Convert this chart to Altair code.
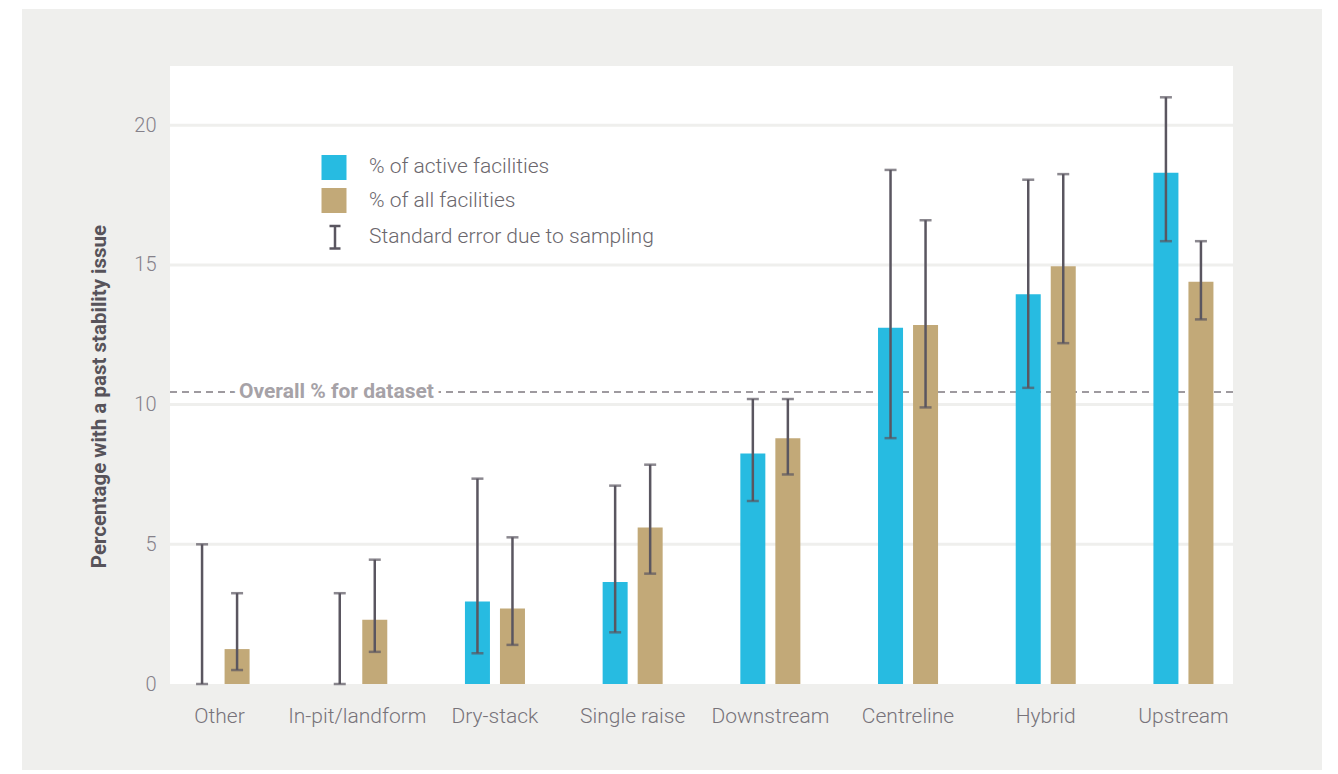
import altair as alt
import pandas as pd

# Tailings facility construction methods
categories = ["Other", "In-pit/landform", "Dry-stack", "Single raise",
              "Downstream", "Centreline", "Hybrid", "Upstream"]

# % of active facilities with a past stability issue, and standard-error range
active_pct = [0.0, 0.0, 2.95, 3.65, 8.25, 12.75, 13.95, 18.3]
active_lo = [0.0, 0.0, 1.1, 1.85, 6.55, 8.8, 10.6, 15.85]
active_hi = [5.0, 3.25, 7.35, 7.1, 10.2, 18.4, 18.05, 21.0]

# % of all facilities with a past stability issue, and standard-error range
all_pct = [1.25, 2.3, 2.7, 5.6, 8.8, 12.85, 14.95, 14.4]
all_lo = [0.5, 1.15, 1.4, 3.95, 7.5, 9.9, 12.2, 13.05]
all_hi = [3.25, 4.45, 5.25, 7.85, 10.2, 16.6, 18.25, 15.85]

series_names = ["% of active facilities", "% of all facilities"]
series_colors = ["#27bbe1", "#c2a978"]
overall_pct = 10.45
y_ticks = [0, 5, 10, 15, 20]

W, H = 1063, 618
PANEL = "#efefed"
ERR = "#5a5660"
FONT = "Roboto"

rows = []
for i, c in enumerate(categories):
    rows.append(dict(category=c, series=series_names[0], value=active_pct[i],
                     lo=active_lo[i], hi=active_hi[i]))
    rows.append(dict(category=c, series=series_names[1], value=all_pct[i],
                     lo=all_lo[i], hi=all_hi[i]))
df = pd.DataFrame(rows)
one = pd.DataFrame({"k": [0]})

y_scale = alt.Scale(domain=[0, 22.12], nice=False, zero=True)
x_enc = alt.X(
    "category:N", sort=categories,
    scale=alt.Scale(paddingInner=0.5, paddingOuter=0.11),
    axis=alt.Axis(title=None, labelAngle=0, domain=False, ticks=False, grid=False,
                  labelPadding=21, labelFontSize=21, labelColor="#77737a",
                  labelFont=FONT, labelFontWeight=300, zindex=1),
)
xo_enc = alt.XOffset("series:N", sort=series_names,
                     scale=alt.Scale(paddingInner=0.286, paddingOuter=0.126))
y_axis = alt.Axis(values=y_ticks, grid=False, domain=False, ticks=False,
                  labelPadding=14, labelFontSize=20, labelColor="#85818a",
                  labelFont=FONT, labelFontWeight=300,
                  title="Percentage with a past stability issue",
                  titleFont=FONT, titleFontSize=20.5, titleFontWeight="bold",
                  titleColor="#57535a", titleX=-71, titleY=330, titleAngle=-90,
                  titleAlign="center", titleBaseline="middle", zindex=1)

# grey panel and white plotting area
panel = alt.Chart(one).mark_rect(color=PANEL).encode(
    x=alt.value(-148), x2=alt.value(1152), y=alt.value(-57), y2=alt.value(704))
plot_bg = alt.Chart(one).mark_rect(color="white").encode(
    x=alt.value(0), x2=alt.value(W), y=alt.value(0), y2=alt.value(H))

grid = alt.Chart(pd.DataFrame({"t": y_ticks[1:]})).mark_rule(
    color=PANEL, strokeWidth=3).encode(y=alt.Y("t:Q", scale=y_scale, axis=y_axis))

overall_df = pd.DataFrame({"v": [overall_pct], "label": ["Overall % for dataset"]})
overall_rule = alt.Chart(overall_df).mark_rule(
    color="#9e9a9f", strokeWidth=2, strokeDash=[7, 5]).encode(
    y=alt.Y("v:Q", scale=y_scale, axis=y_axis))
overall_halo = alt.Chart(overall_df).mark_text(
    align="left", baseline="middle", font=FONT, fontSize=21, fontWeight="bold",
    color="white", stroke="white", strokeWidth=10).encode(
    x=alt.value(69), y=alt.Y("v:Q", scale=y_scale, axis=y_axis), text="label:N")
overall_text = alt.Chart(overall_df).mark_text(
    align="left", baseline="middle", font=FONT, fontSize=21, fontWeight="bold",
    color="#a6a2a7").encode(
    x=alt.value(69), y=alt.Y("v:Q", scale=y_scale, axis=y_axis), text="label:N")

color_enc = alt.Color("series:N", scale=alt.Scale(domain=series_names, range=series_colors),
                      legend=None)
bars = alt.Chart(df).mark_bar().encode(
    x=x_enc, xOffset=xo_enc, y=alt.Y("value:Q", scale=y_scale, axis=y_axis), color=color_enc)

err = alt.Chart(df).mark_rule(color=ERR, strokeWidth=2.5).encode(
    x=x_enc, xOffset=xo_enc, y=alt.Y("lo:Q", scale=y_scale, axis=y_axis), y2="hi:Q")
cap_lo = alt.Chart(df).mark_tick(color=ERR, size=12, thickness=2.5, orient="horizontal").encode(
    x=x_enc, xOffset=xo_enc, y=alt.Y("lo:Q", scale=y_scale, axis=y_axis))
cap_hi = alt.Chart(df).mark_tick(color=ERR, size=12, thickness=2.5, orient="horizontal").encode(
    x=x_enc, xOffset=xo_enc, y=alt.Y("hi:Q", scale=y_scale, axis=y_axis))

# legend drawn inside the plot
leg_text_style = dict(align="left", baseline="middle", font=FONT, fontSize=21,
                      fontWeight=300, color="#6b676d")
legend_layers = [
    alt.Chart(one).mark_square(size=625, color=series_colors[0], opacity=1).encode(
        x=alt.value(164), y=alt.value(101.5)),
    alt.Chart(one).mark_square(size=625, color=series_colors[1], opacity=1).encode(
        x=alt.value(164), y=alt.value(134.5)),
    alt.Chart(one).mark_rule(color=ERR, strokeWidth=2.5).encode(
        x=alt.value(165), y=alt.value(160), y2=alt.value(182.5)),
    alt.Chart(one).mark_rule(color=ERR, strokeWidth=2.5).encode(
        x=alt.value(159.5), x2=alt.value(170.5), y=alt.value(160)),
    alt.Chart(one).mark_rule(color=ERR, strokeWidth=2.5).encode(
        x=alt.value(159.5), x2=alt.value(170.5), y=alt.value(182.5)),
    alt.Chart(one).mark_text(**leg_text_style).encode(
        x=alt.value(199), y=alt.value(101), text=alt.value(series_names[0])),
    alt.Chart(one).mark_text(**leg_text_style).encode(
        x=alt.value(199), y=alt.value(135), text=alt.value(series_names[1])),
    alt.Chart(one).mark_text(**leg_text_style).encode(
        x=alt.value(199), y=alt.value(171), text=alt.value("Standard error due to sampling")),
]

chart = alt.layer(
    panel, plot_bg, grid, overall_rule, overall_halo, overall_text,
    bars, err, cap_lo, cap_hi, *legend_layers
).properties(
    width=W, height=H,
    autosize=alt.AutoSizeParams(type="none"),
    padding={"left": 170, "top": 66, "right": 105, "bottom": 90},
).configure_view(stroke=None).configure(background="white")

chart.save("out.html", embed_options={"renderer": "svg", "actions": False})
